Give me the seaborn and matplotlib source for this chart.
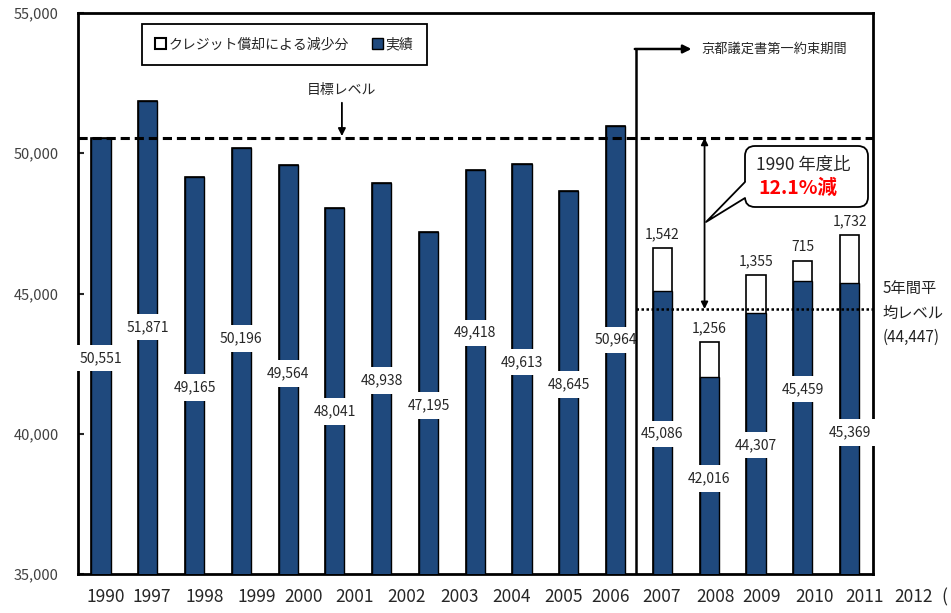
import numpy as np
import pandas as pd
import matplotlib
matplotlib.use("Agg")
import matplotlib.pyplot as plt
import seaborn as sns
from matplotlib.patches import FancyBboxPatch, Polygon, Patch
from matplotlib.lines import Line2D
import matplotlib.transforms as mtransforms

# ---------------- data ----------------
bar_ids = [f"b{i:02d}" for i in range(17)]
actual = [50551, 51871, 49165, 50196, 49564, 48041, 48938, 47195, 49418,
          49613, 48645, 50964, 45086, 42016, 44307, 45459, 45369]
credit = [0] * 12 + [1542, 1256, 1355, 715, 1732]
tick_labels = ["1990", "1997", "1998", "1999", "2000", "2001", "2002", "2003",
               "2004", "2005", "2006", "2007", "2008", "2009", "2010", "2011", "2012"]

# ---------------- layout helpers (positions, not data) ----------------
tick_pos = [0.11, 1.09, 2.22, 3.33, 4.34, 5.41, 6.54, 7.67, 8.78, 9.89, 10.9,
            11.99, 13.14, 14.12, 15.26, 16.32, 17.37]
label_y = [42700, 43800, 41650, 43400, 42150, 40800, 41900, 41000, 43600,
           42550, 41750, 43350, 40000, 38400, 39600, 41600, 40050]

BLUE = "#1F497D"
sns.set_style("white")
plt.rcParams["font.family"] = ["Noto Sans CJK JP", "DejaVu Sans"]

df = pd.DataFrame({"bar": bar_ids, "actual": actual, "credit": credit})
df["total"] = df["actual"] + df["credit"]

base = actual[0]
avg = float(np.mean(actual[12:]))

fig = plt.figure(figsize=(9.51, 6.13), dpi=100)
ax = fig.add_axes([78 / 951, 1 - 574 / 613, 795 / 951, 561 / 613])

sns.barplot(data=df, x="bar", y="total", order=bar_ids, color="white",
            saturation=1, edgecolor="black", linewidth=1.2, width=0.41, ax=ax, zorder=2)
sns.barplot(data=df, x="bar", y="actual", order=bar_ids, color=BLUE,
            saturation=1, edgecolor="black", linewidth=1.0, width=0.41, ax=ax, zorder=3)

ax.set_xlim(-0.49, 16.5)
ax.set_ylim(35000, 55000)
ax.set_xlabel("")
ax.set_ylabel("")
ax.set_xticks([])
ax.set_yticks([35000, 40000, 45000, 50000, 55000])
ax.set_yticklabels([f"{v:,}" for v in [35000, 40000, 45000, 50000, 55000]])
ax.tick_params(axis="y", direction="in", length=4, width=1.5, pad=14,
               labelsize=10.5, labelcolor="#404040", left=True)
for s in ax.spines.values():
    s.set_visible(True)
    s.set_linewidth(2.0)
    s.set_color("black")

# x tick labels (as drawn in the reference, drifting from the bars)
xform = mtransforms.blended_transform_factory(ax.transData, ax.transAxes)
for p, t in zip(tick_pos, tick_labels):
    ax.text(p, -0.041, t, transform=xform, ha="center", va="center",
            fontsize=12.5, clip_on=False)
fig.text(941 / 951, 1 - 597 / 613, "(", ha="left", va="center", fontsize=12.5)

# value labels
for i, (v, ly) in enumerate(zip(actual, label_y)):
    ax.text(i, ly, f"{v:,}", ha="center", va="center", fontsize=10, zorder=6,
            bbox=dict(boxstyle="square,pad=0.45", fc="white", ec="none"))
for i, (c, tot) in enumerate(zip(credit, df["total"])):
    if c > 0:
        ax.annotate(f"{c:,}", xy=(i, tot), xytext=(0, 9.5), textcoords="offset points",
                    ha="center", va="center", fontsize=10, zorder=6)

# target (dashed) line and 5-year average (dotted) line
ax.axhline(base, color="black", lw=2.2, ls=(0, (3, 1.6)), zorder=5)
ax.plot([11.43, 16.5], [avg, avg], color="black", lw=1.8, ls=(0, (1, 1)), zorder=5)

# 目標レベル
ax.text(5.15, 52255, "目標レベル", ha="center", va="center", fontsize=10)
ax.annotate("", xy=(5.15, base + 60), xytext=(5.15, 51800),
            arrowprops=dict(arrowstyle="-|>", lw=1.3, color="black",
                            mutation_scale=11, shrinkA=0, shrinkB=0), zorder=6)

# Kyoto commitment period divider + arrow
ax.plot([11.43, 11.43], [35000, 53717], color="black", lw=1.8, zorder=6)
ax.annotate("", xy=(12.62, 53717), xytext=(11.41, 53717),
            arrowprops=dict(arrowstyle="-|>", lw=1.8, color="black",
                            mutation_scale=12, shrinkA=0, shrinkB=0), zorder=6)
ax.text(12.83, 53717, "京都議定書第一約束期間", ha="left", va="center", fontsize=9.5)

# double arrow between target and average
ax.annotate("", xy=(12.9, base), xytext=(12.9, avg),
            arrowprops=dict(arrowstyle="<|-|>", lw=1.3, color="black",
                            mutation_scale=10, shrinkA=0, shrinkB=0), zorder=6)

# callout box
tr = fig.dpi_scale_trans
box = FancyBboxPatch((7.45, 4.06), 1.23, 0.61, boxstyle="round,pad=0,rounding_size=0.1",
                     fc="white", ec="black", lw=1.3, transform=tr, zorder=7)
fig.add_artist(box)
tail = Polygon([(7.06, 3.91), (7.45, 4.31), (7.52, 4.31), (7.52, 4.15), (7.45, 4.15)],
               closed=True, fc="white", ec="none", transform=tr, zorder=8)
fig.add_artist(tail)
fig.add_artist(Line2D([7.45, 7.06, 7.45], [4.31, 3.91, 4.15], color="black", lw=1.3,
                      transform=tr, zorder=9))
fig.text(8.03 / 9.51, 4.48 / 6.13, "1990 年度比", ha="center", va="center",
         fontsize=12.5, zorder=10)
fig.text(7.98 / 9.51, 4.25 / 6.13, f"{(1 - avg / base) * 100:.1f}%減", ha="center",
         va="center", fontsize=14, fontweight="bold", color="red", zorder=10)

# 5-year average label
ax.text(16.7, 44305, f"5年間平\n均レベル\n({avg:,.0f})", ha="left", va="center",
        fontsize=11, linespacing=1.55, color="#222222", clip_on=False)

# legend
handles = [Patch(facecolor="white", edgecolor="black", lw=1.5),
           Patch(facecolor=BLUE, edgecolor="black", lw=1.0)]
leg = ax.legend(handles, ["クレジット償却による減少分", "実績"], ncol=2,
                loc="upper left", bbox_to_anchor=(0.0805, 0.98), borderaxespad=0,
                frameon=True, fancybox=False, edgecolor="black", framealpha=1,
                fontsize=10, handlelength=0.8, handleheight=0.8, columnspacing=1.6,
                handletextpad=0.2, borderpad=0.95)
leg.get_frame().set_linewidth(1.3)
leg.set_zorder(10)

fig.savefig("out.png", dpi=100, facecolor="white")
